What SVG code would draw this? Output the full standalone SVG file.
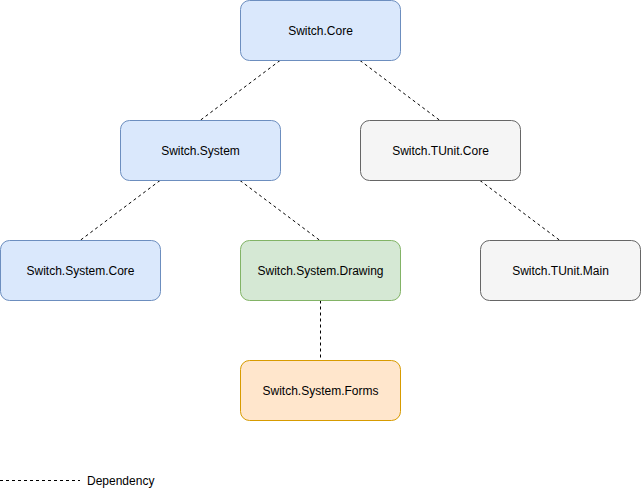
<svg xmlns="http://www.w3.org/2000/svg" width="641" height="491" viewBox="0 0 641 491">
<style>
.n rect{stroke-width:1}
.blue rect{fill:#dae8fc;stroke:#6c8ebf}
.green rect{fill:#d5e8d4;stroke:#82b366}
.orange rect{fill:#ffe6cc;stroke:#d79b00}
.gray rect{fill:#f5f5f5;stroke:#666666}
text{font-family:"Liberation Sans",Arial,sans-serif;font-size:12px;fill:#000;text-anchor:middle;dominant-baseline:central}
.e line{stroke:#000;stroke-width:1;stroke-dasharray:3 3;fill:none}
</style>
<rect width="641" height="491" fill="#fff"/>
<g id="connectors" class="e">
<line x1="280" y1="60.5" x2="200" y2="120.5"/>
<line x1="360" y1="60.5" x2="440" y2="120.5"/>
<line x1="160" y1="180.5" x2="80" y2="240.5"/>
<line x1="240" y1="180.5" x2="320" y2="240.5"/>
<line x1="480" y1="180.5" x2="560" y2="240.5"/>
<line x1="320.5" y1="300.5" x2="320.5" y2="360.5"/>
</g>
<g id="switch-core" class="n blue"><rect x="240.5" y="0.5" width="160" height="60" rx="9"/><text x="320.5" y="31">Switch.Core</text></g>
<g id="switch-system" class="n blue"><rect x="120.5" y="120.5" width="160" height="60" rx="9"/><text x="200.5" y="151">Switch.System</text></g>
<g id="switch-tunit-core" class="n gray"><rect x="360.5" y="120.5" width="160" height="60" rx="9"/><text x="440.5" y="151">Switch.TUnit.Core</text></g>
<g id="switch-system-core" class="n blue"><rect x="0.5" y="240.5" width="160" height="60" rx="9"/><text x="80.5" y="271">Switch.System.Core</text></g>
<g id="switch-system-drawing" class="n green"><rect x="240.5" y="240.5" width="160" height="60" rx="9"/><text x="320.5" y="271">Switch.System.Drawing</text></g>
<g id="switch-tunit-main" class="n gray"><rect x="480.5" y="240.5" width="160" height="60" rx="9"/><text x="560.5" y="271">Switch.TUnit.Main</text></g>
<g id="switch-system-forms" class="n orange"><rect x="240.5" y="360.5" width="160" height="60" rx="9"/><text x="320.5" y="391">Switch.System.Forms</text></g>
<g id="legend">
<line x1="0" y1="480.5" x2="80" y2="480.5" stroke="#000" stroke-dasharray="3 3"/>
<text x="87" y="481" style="text-anchor:start">Dependency</text>
</g>
</svg>
